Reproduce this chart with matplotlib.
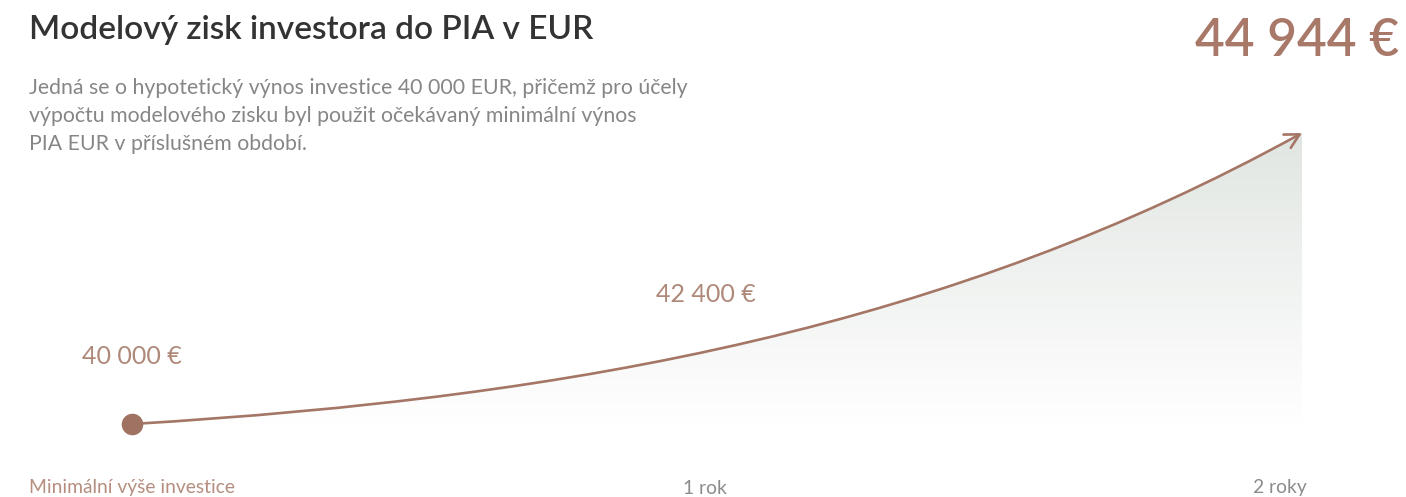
import matplotlib
matplotlib.use("Agg")
import matplotlib.pyplot as plt
import numpy as np
from matplotlib.path import Path
from matplotlib.patches import FancyArrowPatch, PathPatch

# data
periods = ["Minimální výše investice", "1 rok", "2 roky"]
values = [40000, 42400, 44944]
value_labels = ["40 000 €", "42 400 €", "44 944 €"]

title = "Modelový zisk investora do PIA v EUR"
subtitle = ("Jedná se o hypotetický výnos investice 40 000 EUR, přičemž pro účely\n"
            "výpočtu modelového zisku byl použit očekávaný minimální výnos\n"
            "PIA EUR v příslušném období.")

W, H = 1406, 497
brown = "#a57666"
font = "Lato"

fig = plt.figure(figsize=(W / 100, H / 100), dpi=100)
ax = fig.add_axes([0, 0, 1, 1])
ax.axis("off")

# map x: 0 -> 132px, 2 -> 1302px ; y: 40000 -> 424px, 44944 -> 133px (from top)
xs = np.arange(len(values))
px_per_x = (1302 - 132) / (xs[-1] - xs[0])
ax.set_xlim(xs[0] - 132 / px_per_x, xs[-1] + (W - 1302) / px_per_x)
v_per_px = (values[-1] - values[0]) / (424 - 133)
ax.set_ylim(values[0] - (H - 424) * v_per_px, values[-1] + 133 * v_per_px)

# smooth decorative growth curve (cubic bezier from first to last value)
x0, y0, x1, y1 = xs[0], values[0], xs[-1], values[-1]
dx, dy = x1 - x0, y1 - y0
c1 = (x0 + 0.385 * dx, y0 + 0.093 * dy)
c2 = (x1 - 0.299 * dx, y1 - 0.662 * dy)
verts = [(x0, y0), c1, c2, (x1, y1)]
curve = Path(verts, [Path.MOVETO, Path.CURVE4, Path.CURVE4, Path.CURVE4])

# gradient fill under curve
base = values[0] - 3 * v_per_px
t = np.linspace(0, 1, 200)
bz = ((1 - t) ** 3)[:, None] * np.array(verts[0]) + (3 * (1 - t) ** 2 * t)[:, None] * np.array(c1) \
    + (3 * (1 - t) * t ** 2)[:, None] * np.array(c2) + (t ** 3)[:, None] * np.array(verts[3])
poly = np.vstack([bz, [[x1, base], [x0, base]]])
clip = PathPatch(Path(poly, closed=False), facecolor="none", edgecolor="none")
ax.add_patch(clip)
top = np.array([0xe1, 0xe6, 0xe2]) / 255
bot = np.array([1.0, 1.0, 1.0])
g = np.linspace(0, 1, 256)[:, None]
grad = (top * (1 - g) + bot * g)[:, None, :] * np.ones((1, 2, 1))
im = ax.imshow(grad, extent=[x0, x1, base, y1], aspect="auto", origin="upper",
               interpolation="bilinear", zorder=1)
im.set_clip_path(clip)

arrow = FancyArrowPatch(path=curve, arrowstyle="->,head_length=0.6,head_width=0.32",
                        mutation_scale=17, color=brown, lw=1.9, zorder=3)
ax.add_patch(arrow)
ax.plot([x0], [y0], "o", ms=14.5, color="#a07262", zorder=4)

def ft(x, y, s, **kw):
    fig.text(x / W, 1 - y / H, s, family=font, **kw)

ft(29, 30, title, fontsize=24, weight="semibold", color="#333333", va="center")
ft(29, 116, subtitle, fontsize=15.3, color="#868686", va="center", linespacing=1.5)
ft(1399, 41, value_labels[2], fontsize=37, weight="semibold", color="#a87868",
   ha="right", va="center")
ft(132, 357, value_labels[0], fontsize=18, color="#ae8878", ha="center", va="center")
ft(706, 295, value_labels[1], fontsize=18, color="#ae8878", ha="center", va="center")
ft(29, 488, periods[0], fontsize=13.9, color="#b58e80", va="center")
ft(705, 488, periods[1], fontsize=13.9, color="#8c8c8c", ha="center", va="center")
ft(1280, 488, periods[2], fontsize=13.9, color="#8c8c8c", ha="center", va="center")

fig.savefig("out.png", dpi=100, facecolor="white")
